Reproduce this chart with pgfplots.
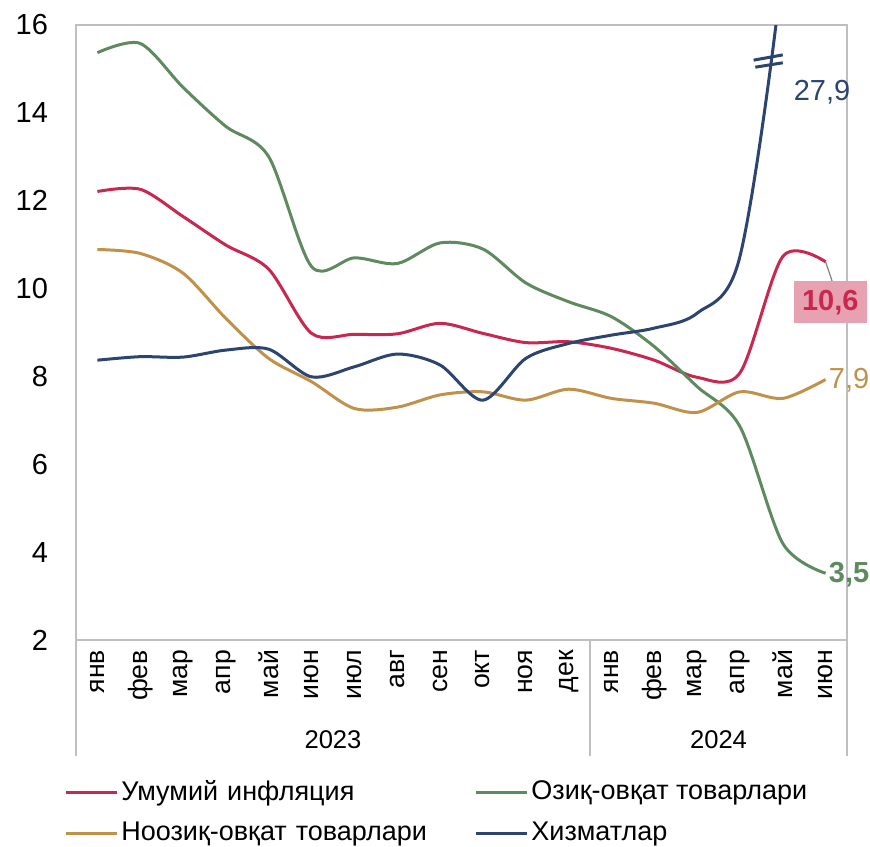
\documentclass[border=0pt]{standalone}
\usepackage{fontspec}
\setmainfont{Liberation Sans}
\usepackage{pgfplots}
\pgfplotsset{compat=1.18}
\definecolor{axgray}{HTML}{BFBFBF}
\definecolor{cred}{HTML}{C8284F}
\definecolor{cgreen}{HTML}{5E8B5E}
\definecolor{ctan}{HTML}{C0914B}
\definecolor{cblue}{HTML}{2B4470}
\definecolor{cpink}{HTML}{E8A1B0}
\begin{document}
\fontsize{14.5pt}{17pt}\selectfont
\begin{tikzpicture}
\begin{axis}[
  name=ax,
  scale only axis, width=385.5pt, height=307.5pt,
  xmin=-0.5, xmax=17.5, ymin=2, ymax=16,
  ytick={2,4,...,16},
  xtick={0,...,17},
  xticklabels={янв,фев,мар,апр,май,июн,июл,авг,сен,окт,ноя,дек,янв,фев,мар,апр,май,июн},
  xticklabel style={rotate=90, anchor=east, font=\fontsize{13.3pt}{16pt}\selectfont},
  yticklabel style={xshift=-9pt},
  /pgf/number format/assume math mode=true,
  major tick length=0pt,
  axis line style={draw=axgray, line width=0.8pt},
  clip mode=individual,
  every axis plot/.append style={smooth, line width=1.5pt, no markers},
  legend columns=2,
  legend cell align=left,
  legend image code/.code={\draw[#1, line width=1.5pt] (0pt,0pt) -- (25.5pt,0pt);},
  legend style={draw=none, fill=none, inner sep=0pt, anchor=north west,
    at={(rel axis cs:0,0)}, xshift=-6pt, yshift=-69pt,
    font=\fontsize{13.5pt}{16pt}\selectfont,
    nodes={inner xsep=0pt, inner ysep=1pt},
    /tikz/column sep=1.5pt, /tikz/row sep=6.5pt,
    /tikz/column 2/.append style={text width=175pt}},
]
\addplot[cred] coordinates {(0,12.21)(1,12.26)(2,11.64)(3,10.99)(4,10.44)(5,8.98)(6,8.96)(7,8.97)(8,9.21)(9,8.98)(10,8.77)(11,8.79)(12,8.64)(13,8.37)(14,7.98)(15,8.08)(16,10.73)(17,10.61)};
\addlegendentry{Умумий инфляция}
\addplot[cgreen] coordinates {(0,15.37)(1,15.58)(2,14.58)(3,13.69)(4,13.0)(5,10.5)(6,10.70)(7,10.57)(8,11.04)(9,10.9)(10,10.13)(11,9.70)(12,9.36)(13,8.68)(14,7.77)(15,6.86)(16,4.20)(17,3.52)};
\addlegendentry{Озиқ-овқат товарлари}
\addplot[ctan] coordinates {(0,10.89)(1,10.80)(2,10.35)(3,9.32)(4,8.41)(5,7.88)(6,7.27)(7,7.30)(8,7.58)(9,7.65)(10,7.46)(11,7.71)(12,7.50)(13,7.39)(14,7.18)(15,7.65)(16,7.50)(17,7.93)};
\addlegendentry{Ноозиқ-овқат товарлари}
\addplot[cblue] coordinates {(0,8.37)(1,8.45)(2,8.44)(3,8.60)(4,8.62)(5,7.99)(6,8.22)(7,8.51)(8,8.26)(9,7.46)(10,8.41)(11,8.75)(12,8.94)(13,9.10)(14,9.44)(15,10.73)(16,17.3)(17,27.9)};
\addlegendentry{Хизматлар}
% break marks
\draw[cblue, line width=1.5pt] (axis cs:15.32,15.20) -- (axis cs:16.0,15.32);
\draw[cblue, line width=1.5pt] (axis cs:15.36,15.04) -- (axis cs:16.0,15.14);
% data labels
\node[anchor=west, text=cblue, inner sep=0pt] at (axis cs:16.25,14.47) {27,9};
\draw[gray, line width=0.6pt] (axis cs:17,10.61) -- (axis cs:17.16,10.15);
\node[fill=cpink, text=cred, font=\bfseries, minimum width=36.5pt, minimum height=21pt, inner sep=0pt] at (axis cs:17.11,9.69) {10,6};
\node[anchor=west, text=ctan, inner sep=0pt] at (axis cs:17.07,7.92) {7,9};
\node[anchor=west, text=cgreen, font=\bfseries, inner sep=0pt] at (axis cs:17.07,3.50) {3,5};
% category group separators and years
\draw[axgray, line width=0.8pt] (axis cs:-0.5,2) -- ([yshift=-58pt]axis cs:-0.5,2);
\draw[axgray, line width=0.8pt] (axis cs:11.5,2) -- ([yshift=-58pt]axis cs:11.5,2);
\draw[axgray, line width=0.8pt] (axis cs:17.5,2) -- ([yshift=-58pt]axis cs:17.5,2);
\node[font=\fontsize{12.8pt}{15pt}\selectfont] at ([yshift=-50pt]axis cs:5.5,2) {2023};
\node[font=\fontsize{12.8pt}{15pt}\selectfont] at ([yshift=-50pt]axis cs:14.5,2) {2024};
\end{axis}
\path[use as bounding box] ([xshift=-38pt,yshift=-103pt]ax.south west) rectangle ([xshift=11.5pt,yshift=12.5pt]ax.north east);
\end{tikzpicture}
\end{document}
